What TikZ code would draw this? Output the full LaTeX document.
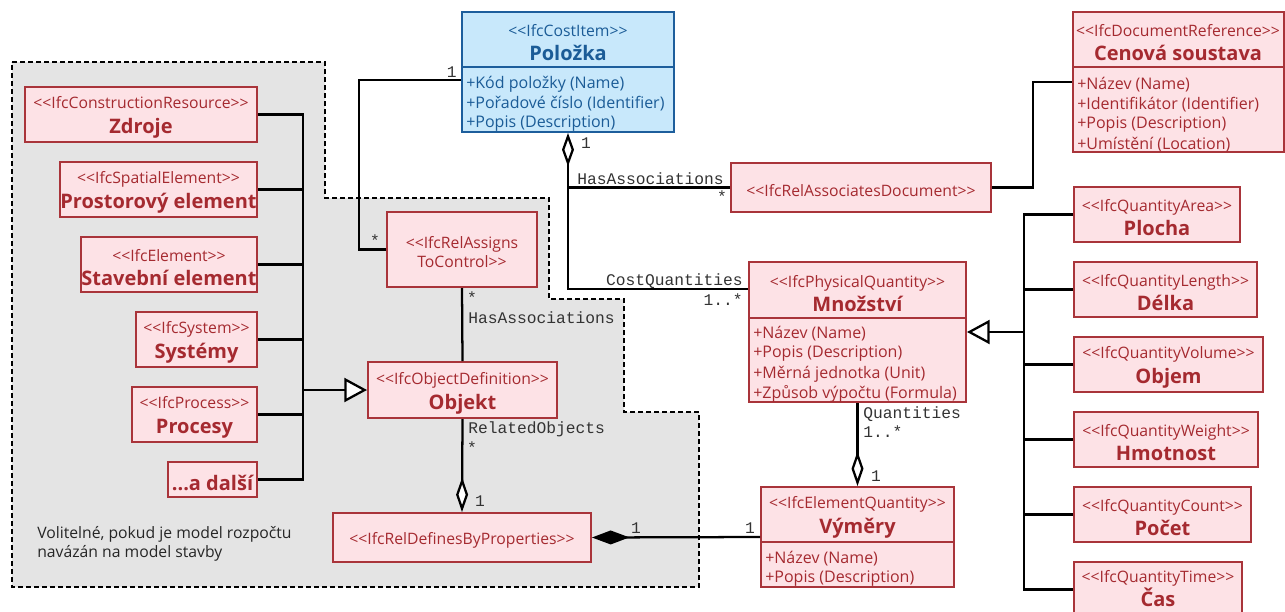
\documentclass[tikz,border=0pt]{standalone}
\usepackage{fontspec}
\newfontfamily\osans{Open Sans}
\newfontfamily\mono{Liberation Mono}
\usetikzlibrary{arrows.meta}
\definecolor{rb}{HTML}{A9343A}
\definecolor{rf}{HTML}{FDE2E6}
\definecolor{rt}{HTML}{A52A30}
\definecolor{bb}{HTML}{1D5E9C}
\definecolor{bf}{HTML}{C8E8FB}
\definecolor{bt}{HTML}{1B5C97}
\definecolor{gf}{HTML}{E4E4E4}
\newcommand\stf{\fontsize{11.8}{18.6}\selectfont}
\newcommand\nmf{\bfseries\fontsize{15}{18.6}\selectfont}
\newcommand\atf{\fontsize{12}{15}\selectfont}
\newcommand\lbf{\fontsize{12.2}{14}\selectfont}
\newcommand\bx[7]{\node[#6, minimum width={(#4-#2)*0.75pt}, minimum height={(#5-#3)*0.75pt}] (#1) at ({(#2+#4)/2},{(#3+#5)/2}) {};
 \node[#6, draw=none, fill=none] (#1-t) at ({(#2+#4)/2},{(#3+#5)/2+3}) {#7};}
\newcommand\attrs[5]{\foreach \atx [count=\ati] in {#5} {\node[#2] (#1-a\ati) at (#3,{#4+20*(\ati-1)}) {\atx};}}
\begin{document}
\begin{tikzpicture}[x=0.75pt,y=-0.75pt,
 cls/.style={draw=rb, fill=rf, line width=1.5pt, text=rt, inner sep=0pt, font=\osans\stf, align=center},
 bcls/.style={cls, draw=bb, fill=bf, text=bt},
 htext/.style={font=\osans\stf, text=rt, align=center, inner sep=0pt},
 bhtext/.style={htext, text=bt},
 attr/.style={font=\osans\atf, text=rt, inner sep=0pt, anchor=west},
 battr/.style={attr, text=bt},
 conn/.style={line width=1.7pt, draw=black},
 lbl/.style={font=\mono\lbf, text=black!80, inner sep=0pt},
 lblw/.style={lbl, text height=7.3pt, text depth=0pt},
 gen/.style={-{Triangle[fill=white, length=17pt, width=18pt]}},
 agg/.style={-{Diamond[fill=white, length=26pt, width=9pt]}},
]
\useasboundingbox (0,0) rectangle (1285,611);
\fill[white] (0,0) rectangle (1285,611);
% optional region
\fill[gf] (12,62) -- (325,62) -- (325,198) -- (549,198) -- (549,299) -- (624,299) -- (624,412) -- (699,412) -- (699,587) -- (12,587) -- cycle;
\draw[line width=1.5pt, dash pattern=on 3.75pt off 2.25pt] (12,62) -- (325,62) -- (325,198) -- (549,198) -- (549,299) -- (624,299) -- (624,412) -- (699,412) -- (699,587) -- (12,587) -- cycle;
\node[font=\osans\fontsize{11.8}{14.25}\selectfont, text=black!85, align=left, anchor=west, inner sep=0pt] (vol) at (37,544) {Volitelné, pokud je model rozpočtu\\navázán na model stavby};

% left column
\bx{zd}{25}{87}{257}{142}{cls}{<<IfcConstructionResource>>\\{\nmf Zdroje}}
\bx{pe}{60}{162}{257}{217}{cls}{<<IfcSpatialElement>>\\{\nmf Prostorový element}}
\bx{se}{81}{237}{257}{292}{cls}{<<IfcElement>>\\{\nmf Stavební element}}
\bx{sy}{136}{312}{257}{367}{cls}{<<IfcSystem>>\\{\nmf Systémy}}
\bx{pr}{132}{387}{257}{442}{cls}{<<IfcProcess>>\\{\nmf Procesy}}
\bx{dal}{168}{462}{257}{497}{cls}{{\nmf ...a další}}

\bx{ratc}{387}{212}{537}{287}{cls,font=\osans\fontsize{11.8}{14.25}\selectfont}{<<IfcRelAssigns\\ToControl>>}
\bx{obj}{368}{362}{557}{418}{cls}{<<IfcObjectDefinition>>\\{\nmf Objekt}}
\bx{rdp}{333}{513}{591}{562}{cls}{<<IfcRelDefinesByProperties>>}
\bx{rad}{731}{163}{991}{212}{cls}{<<IfcRelAssociatesDocument>>}

% right column
\bx{pl}{1074}{187}{1240}{242}{cls}{<<IfcQuantityArea>>\\{\nmf Plocha}}
\bx{de}{1074}{262}{1257}{317}{cls}{<<IfcQuantityLength>>\\{\nmf Délka}}
\bx{ob}{1074}{337}{1263}{392}{cls}{<<IfcQuantityVolume>>\\{\nmf Objem}}
\bx{hm}{1074}{412}{1258}{467}{cls}{<<IfcQuantityWeight>>\\{\nmf Hmotnost}}
\bx{po}{1074}{487}{1251}{542}{cls}{<<IfcQuantityCount>>\\{\nmf Počet}}
\node[cls, minimum width={168*0.75pt}, minimum height={55*0.75pt}] (cas) at (1158,589.5) {};
\node[cls, draw=none, fill=none] (cas-t) at (1158,588.5) {<<IfcQuantityTime>>\\{\nmf Čas}};

% compartment boxes
\bx{pol}{462}{12}{674}{132}{bcls}{}
\draw[draw=bb, line width=1.5pt] (pol.west |- 0,67) -- (pol.east |- 0,67);
\node[bhtext] (pol-h) at (568,42.5) {<<IfcCostItem>>\\{\nmf Položka}};
\attrs{pol}{battr}{466}{84}{+Kód položky (Name),+Pořadové číslo (Identifier),+Popis (Description)}

\bx{cen}{1073}{12}{1284}{152}{cls}{}
\draw[draw=rb, line width=1.5pt] (cen.west |- 0,67) -- (cen.east |- 0,67);
\node[htext] (cen-h) at (1178,42.5) {<<IfcDocumentReference>>\\{\nmf Cenová soustava}};
\attrs{cen}{attr}{1077}{84.5}{+Název (Name),+Identifikátor (Identifier),+Popis (Description),+Umístění (Location)}

\bx{mn}{749}{262}{966}{402}{cls}{}
\draw[draw=rb, line width=1.5pt] (mn.west |- 0,318) -- (mn.east |- 0,318);
\node[htext] (mn-h) at (857.5,293.5) {<<IfcPhysicalQuantity>>\\{\nmf Množství}};
\attrs{mn}{attr}{753}{334}{+Název (Name),+Popis (Description),+Měrná jednotka (Unit),+Způsob výpočtu (Formula)}

\bx{vym}{761}{487}{954}{587}{cls}{}
\draw[draw=rb, line width=1.5pt] (vym.west |- 0,542) -- (vym.east |- 0,542);
\node[htext] (vym-h) at (857.5,517.5) {<<IfcElementQuantity>>\\{\nmf Výměry}};
\attrs{vym}{attr}{765}{559}{+Název (Name),+Popis (Description)}

% connectors
\coordinate (bL) at (303,0);
\coordinate (bR) at (1024,0);
\coordinate (cA) at (359,0);
\coordinate (cD) at (1033,0);
\draw[conn] (zd.east) -| (dal.east -| bL) -- (dal.east);
\foreach \n in {pe,se,sy,pr} \draw[conn] (\n.east) -- (\n.east -| bL);
\draw[conn,gen] (obj.west -| bL) -- (obj.west);

\draw[conn] (pl.west) -| (cas.west -| bR) -- (cas.west);
\foreach \n in {de,ob,hm,po} \draw[conn] (\n.west) -- (\n.west -| bR);
\draw[conn,gen] (mn.east -| bR) -- (mn.east);

\draw[conn] ([yshift=-6pt]pol.west) -| (cA |- ratc.west) -- (ratc.west);
\draw[conn, {Diamond[fill=white, length=25pt, width=9pt]}-] (pol.south) |- ([yshift=32.25pt]mn.west);
\draw[conn] (pol.south |- rad.west) -- (rad.west);
\draw[conn] (rad.east) -| (cD |- cen.west) -- (cen.west);
\draw[conn] (ratc.south) -- (obj.north);
\draw[conn, agg] (obj.south) -- (rdp.north);
\draw[conn, {Diamond[length=28pt, width=10.5pt]}-] (rdp.east) -- (vym.west);
\draw[conn, agg] (mn.south) -- (vym.north);

% labels
\node[lbl, anchor=east] (l1) at (457,72) {1};
\node[lbl] (l2) at (375,241) {*};
\node[lbl] (l3) at (586,143) {1};
\node[lblw, anchor=west] (l4) at (577,180) {HasAssociations};
\node[lbl] (l5) at (722,197) {*};
\node[lblw, anchor=east] (l6) at (743,281) {CostQuantities};
\node[lblw, anchor=east] (l7) at (743,301) {1..*};
\node[lbl] (l8) at (472,298) {*};
\node[lblw, anchor=west] (l9) at (468,319) {HasAssociations};
\node[lblw, anchor=west] (l10) at (468,429) {RelatedObjects};
\node[lbl] (l11) at (472,448) {*};
\node[lbl] (l12) at (480,501) {1};
\node[lbl] (l13) at (636,528) {1};
\node[lbl] (l14) at (750,528) {1};
\node[lblw, anchor=west] (l15) at (863,414) {Quantities};
\node[lblw, anchor=west] (l16) at (863,433) {1..*};
\node[lbl] (l17) at (876,476) {1};
\end{tikzpicture}
\end{document}
